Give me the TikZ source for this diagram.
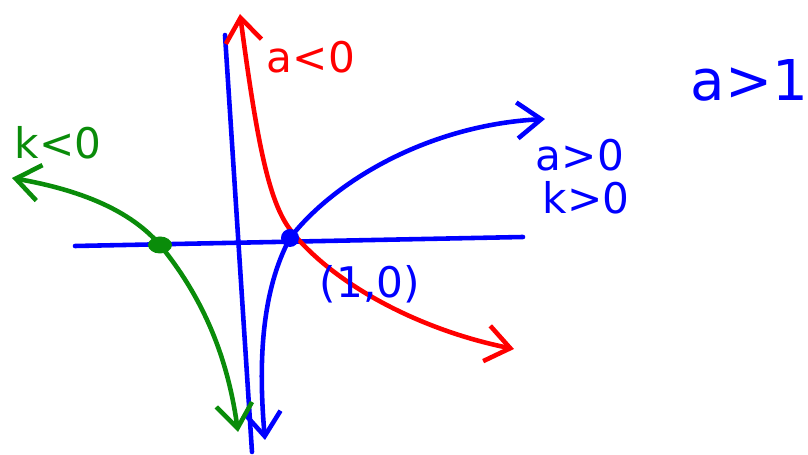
\documentclass[tikz,border=0pt]{standalone}
\usepackage{fontspec}
\setmainfont{DejaVu Sans}
\usetikzlibrary{arrows.meta}
\definecolor{inkblue}{RGB}{0,0,255}
\definecolor{inkred}{RGB}{255,0,0}
\definecolor{inkgreen}{RGB}{10,140,10}
\tikzset{
  ink/.style={line width=1.3pt, line cap=round, line join=round},
  twobarb/.style={{Straight Barb[length=2.4mm,width=3.6mm]}-{Straight Barb[length=2.4mm,width=3.6mm]}},
  lbl/.style={inner sep=0pt, font=\fontsize{12}{14}\selectfont}
}
\begin{document}
\begin{tikzpicture}[x=0.01cm, y=-0.01cm]
    \useasboundingbox (0,0) rectangle (808,455);

    % axes
    \coordinate (L) at (75,246);
    \coordinate (R) at (523,237);
    \coordinate (T) at (225,35);
    \coordinate (B) at (252,452);

    % points on the axis
    \coordinate (P) at (290,238);
    \coordinate (Q) at (160,245);

    % curve ends
    \coordinate (blueup) at (545,119);
    \coordinate (bluedown) at (265,440);
    \coordinate (redup) at (240,14);
    \coordinate (redend) at (514,349);
    \coordinate (greenup) at (12,178);
    \coordinate (greendown) at (238,432);

    \draw[ink, inkblue] (L) -- (R);
    \draw[ink, inkblue] (T) -- (B);

    \draw[ink, inkblue, twobarb] (bluedown) .. controls (258,360) and (262,290) .. (P)
        .. controls (335,180) and (430,125) .. (blueup);
    \draw[ink, inkred, twobarb] (redup) .. controls (258,150) and (270,205) .. (292,232)
        .. controls (335,285) and (420,330) .. (redend);
    \draw[ink, inkgreen, twobarb] (greenup) .. controls (80,190) and (130,210) .. (Q)
        .. controls (205,300) and (228,360) .. (greendown);

    \fill[inkblue] (P) circle[radius=0.09cm];
    \fill[inkgreen] (Q) ellipse[x radius=0.12cm, y radius=0.085cm];

    \node[lbl, inkred] (aneg) at (311,57) {a<0};
    \node[lbl, inkgreen] (kneg) at (58,143) {k<0};
    \node[lbl, inkblue] (apos) at (580,155) {a>0};
    \node[lbl, inkblue] (kpos) at (586,198) {k>0};
    \node[lbl, inkblue] (onezero) at (370,284) {(1,0)};
    \node[lbl, inkblue, anchor=west, font=\fontsize{16}{19}\selectfont] (abig) at (690,80) {a>1};
  \end{tikzpicture}
\end{document}
